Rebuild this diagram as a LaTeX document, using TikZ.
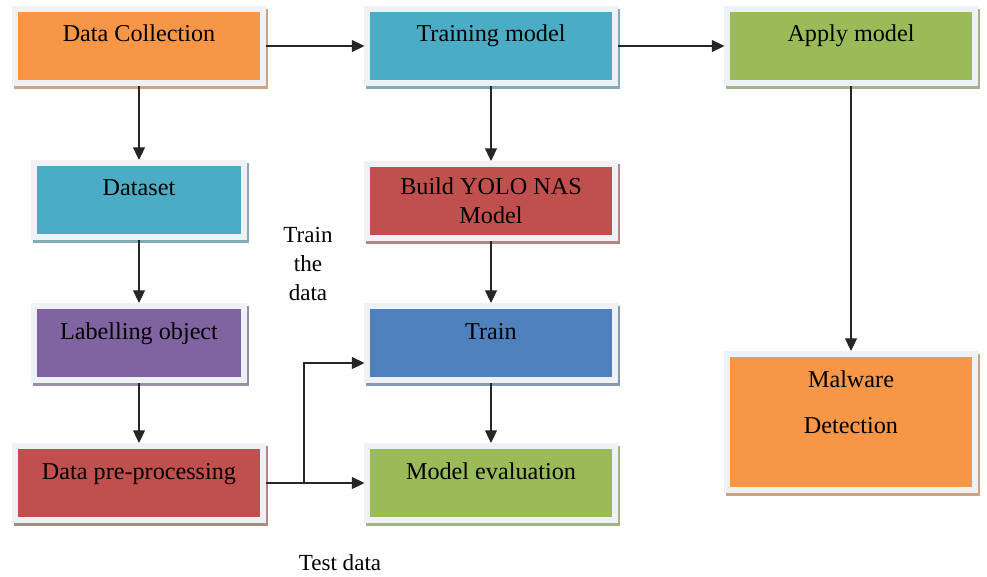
\documentclass[tikz,border=0pt]{standalone}
\usepackage{fontspec}
\setmainfont{Liberation Serif}
\usetikzlibrary{arrows.meta,calc}
\definecolor{colOrange}{RGB}{247,150,70}
\definecolor{colTeal}{RGB}{75,172,198}
\definecolor{colGreen}{RGB}{155,187,89}
\definecolor{colRed}{RGB}{192,80,77}
\definecolor{colPurple}{RGB}{128,100,162}
\definecolor{colBlue}{RGB}{79,129,189}
\definecolor{frame}{RGB}{238,241,245}

\begin{document}
\begin{tikzpicture}[x=0.025cm, y=-0.025cm,
    stage/.style={draw=frame, line width=0.15cm, fill=#1,
      preaction={draw=#1!55!gray!80!white, fill=#1!55!gray!80!white, line width=0.15cm,
        transform canvas={xshift=0.05cm, yshift=-0.08cm}},
      minimum width=6.175cm, minimum height=1.85cm, inner sep=0pt,
      font=\fontsize{17.2}{20.6}\selectfont, text height=0.45cm, text depth=0.65cm},
    flow/.style={-{Triangle[width=8.5pt,length=9pt]}, line width=0.9pt, draw=black!85},
    note/.style={font=\fontsize{16.4}{20.6}\selectfont, align=center}]
  \useasboundingbox (0,0) rectangle (987,577);
  \node[stage=colOrange] (dc) at (139,46) {Data Collection};
  \node[stage=colTeal] (tm) at (491,46) {Training model};
  \node[stage=colGreen] (am) at (851,46) {Apply model};
  \node[stage=colTeal, minimum width=5.25cm] (ds) at (139,200) {Dataset};
  \node[stage=colRed, align=center, text height={}, text depth={}] (yolo) at (491,201) {Build YOLO NAS\\Model};
  \node[stage=colPurple, minimum width=5.25cm] (lo) at (139,343) {Labelling object};
  \node[stage=colBlue] (tr) at (491,343) {Train};
  \node[stage=colRed] (pp) at (139,483) {Data pre-processing};
  \node[stage=colGreen] (me) at (491,483) {Model evaluation};
  \node[stage=colOrange, minimum width=6.2cm, minimum height=3.4cm, align=center,
    text height={}, text depth=1cm] (md) at (851,422) {Malware\\[12pt]Detection};
  \draw[flow] (dc.east) -- (tm.west);
  \draw[flow] (tm.east) -- (am.west);
  \draw[flow] (dc.south) -- (ds.north);
  \draw[flow] (ds.south) -- (lo.north);
  \draw[flow] (lo.south) -- (pp.north);
  \draw[flow] (tm.south) -- (yolo.north);
  \draw[flow] (yolo.south) -- (tr.north);
  \draw[flow] (tr.south) -- (me.north);
  \draw[flow] (am.south) -- (md.north);
  \draw[flow] (pp.east) -- (me.west);
  \coordinate (fork) at ($(pp.east)!0.39!(me.west)$);
  \draw[flow] (fork) |- ([yshift=-0.5cm]tr.west);
  \node[note] (trainlbl) at (308,264) {Train\\the\\data};
  \node[note] (testlbl) at (340,563) {Test data};
\end{tikzpicture}
\end{document}
